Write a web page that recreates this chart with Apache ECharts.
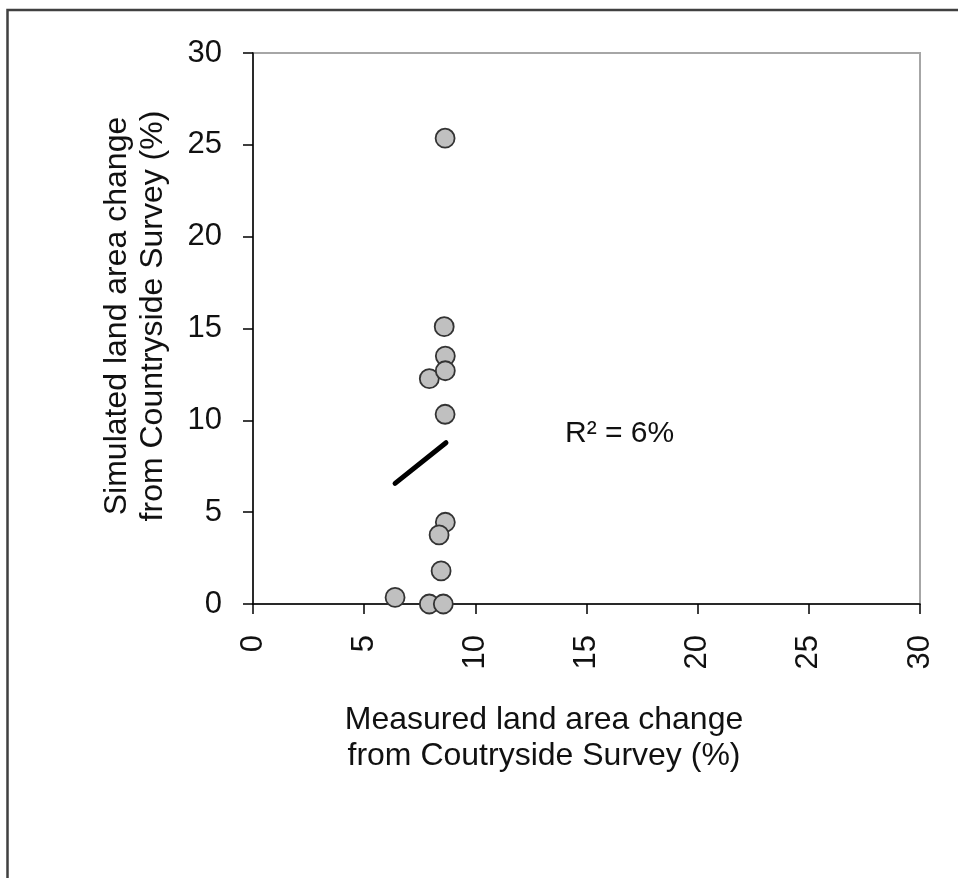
<!DOCTYPE html>
<html>
<head>
<meta charset="utf-8">
<script src="https://cdn.jsdelivr.net/npm/echarts@6/dist/echarts.min.js"></script>
<style>
html,body{margin:0;padding:0;background:#fff;}
#chart{width:958px;height:878px;}
</style>
</head>
<body>
<div id="chart"></div>
<script>
// Data
var measured = [8.64, 8.60, 8.65, 7.93, 8.65, 8.64, 8.65, 8.37, 8.46, 6.39, 7.93, 8.56];
var simulated = [25.36, 15.10, 13.50, 12.27, 12.70, 10.33, 4.45, 3.76, 1.80, 0.36, 0.0, 0.0];
var trendX = [6.39, 8.68];
var trendY = [6.57, 8.78];
var tickValues = [0, 5, 10, 15, 20, 25, 30];
var xTitle = 'Measured land area change\nfrom Coutryside Survey (%)';
var yTitle = 'Simulated land area change\nfrom Countryside Survey (%)';
var rText = 'R\u00B2 = 6%';

var points = measured.map(function (x, i) { return [x, simulated[i]]; });
var trend = trendX.map(function (x, i) { return [x, trendY[i]]; });

var font = '"Liberation Sans", Arial, sans-serif';
var chart = echarts.init(document.getElementById('chart'), null, {renderer: 'canvas'});

function axisCommon() {
  return {
    type: 'value',
    min: tickValues[0],
    max: tickValues[tickValues.length - 1],
    interval: 5,
    splitLine: {show: false},
    axisLine: {show: true, lineStyle: {color: '#000', width: 1.5}},
    axisTick: {show: true, inside: false, length: 10, lineStyle: {color: '#000', width: 1.5}},
    axisLabel: {color: '#111', fontFamily: font, fontSize: 31}
  };
}

var xAxis = axisCommon();
xAxis.axisLabel.rotate = 90;
xAxis.axisLabel.margin = 31;
var yAxis = axisCommon();
yAxis.axisLabel.margin = 31;

chart.setOption({
  animation: false,
  backgroundColor: '#fff',
  grid: {left: 253, right: 38, top: 53, bottom: 274, show: true,
         borderColor: '#a6a6a6', borderWidth: 2, backgroundColor: 'transparent'},
  xAxis: xAxis,
  yAxis: yAxis,
  graphic: [
    {type: 'rect', shape: {x: 7.5, y: 10, width: 1100, height: 1100},
     style: {fill: 'none', stroke: '#404040', lineWidth: 2.5}, silent: true},
    {type: 'text', x: 544, y: 738,
     style: {text: xTitle, fill: '#111', font: '32px ' + font, align: 'center',
             verticalAlign: 'middle', lineHeight: 36}},
    {type: 'text', x: 135, y: 316, rotation: Math.PI / 2,
     style: {text: yTitle, fill: '#111', font: '32px ' + font, align: 'center',
             verticalAlign: 'middle', lineHeight: 36}},
    {type: 'text', x: 565, y: 434,
     style: {text: rText, fill: '#111', font: '30px ' + font, align: 'left',
             verticalAlign: 'middle'}}
  ],
  series: [
    {type: 'scatter', data: points, symbol: 'circle', symbolSize: 19,
     itemStyle: {color: '#c0c0c0', borderColor: '#333', borderWidth: 1.8, opacity: 1},
     z: 3},
    {type: 'line', data: trend, showSymbol: false, symbol: 'none',
     lineStyle: {color: '#000', width: 5, cap: 'round'}, z: 4}
  ]
});
</script>
</body>
</html>
